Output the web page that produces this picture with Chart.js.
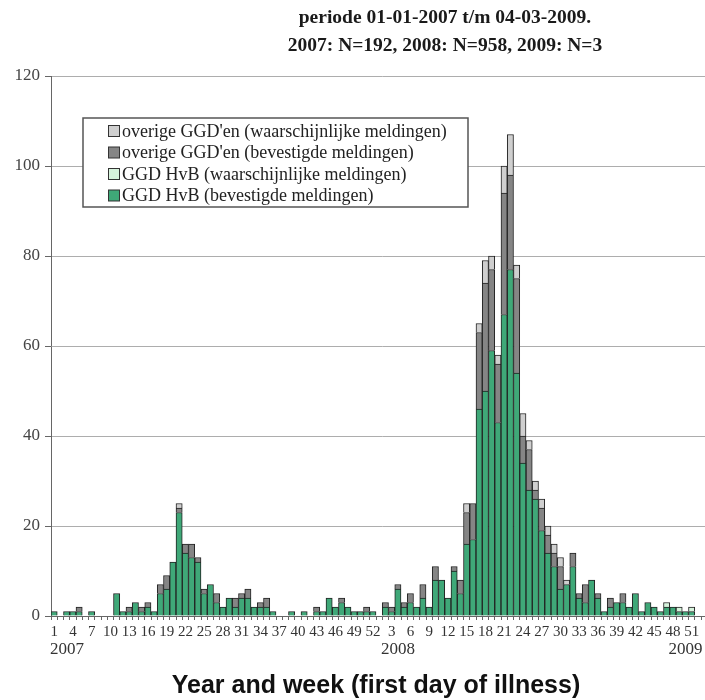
<!DOCTYPE html>
<html><head><meta charset="utf-8">
<script src="https://cdn.jsdelivr.net/npm/chart.js@4.4.1/dist/chart.umd.min.js"></script>
<style>html,body{margin:0;padding:0;background:#fff;overflow:hidden;width:705px;height:700px}
#wrap{position:relative;width:718px;height:700px}</style>
</head><body><div id="wrap"><canvas id="c" width="718" height="700"></canvas></div>
<script>
// Week numbers: 2007 w1-52, 2008 w1-52, 2009 w1-2
const weeks = [
 1,2,3,4,5,6,7,8,9,10,11,12,13,14,15,16,17,18,19,20,21,22,23,24,25,26,27,28,29,30,31,32,33,34,35,36,37,38,39,40,41,42,43,44,45,46,47,48,49,50,51,52,
 1,2,3,4,5,6,7,8,9,10,11,12,13,14,15,16,17,18,19,20,21,22,23,24,25,26,27,28,29,30,31,32,33,34,35,36,37,38,39,40,41,42,43,44,45,46,47,48,49,50,51,52,
 1,2
];
const years = ['2007','2008','2009'];
const seriesNames = [
 'GGD HvB (bevestigde meldingen)',
 'GGD HvB (waarschijnlijke meldingen)',
 "overige GGD'en (bevestigde meldingen)",
 "overige GGD'en (waarschijnlijke meldingen)"
];
const hvbConfirmed = [
 1,0,1,1,1,0,1,0,0,0,
 5,1,1,3,1,2,1,5,6,12,
 23,14,13,12,5,7,3,2,4,2,
 4,4,2,2,2,1,0,0,1,0,
 1,0,1,1,4,2,3,2,1,1,
 1,1,
 0,2,1,6,2,3,2,4,2,8,
 8,4,10,5,16,17,46,50,59,43,
 67,77,54,34,28,26,19,14,11,6,
 7,11,4,3,8,4,1,2,3,3,
 2,5,1,3,2,1,2,2,1,1,
 1,0,
 0,0
];
const hvbProbable = [
 0,0,0,0,0,0,0,0,0,0, 0,0,0,0,0,0,0,0,0,0, 0,0,0,0,0,0,0,0,0,0, 0,0,0,0,0,0,0,0,0,0, 0,0,0,0,0,0,0,0,0,0, 0,0,
 0,0,0,0,0,0,0,0,0,0, 0,0,0,0,0,0,0,0,0,0, 0,0,0,0,0,0,0,0,0,0, 0,0,0,0,0,0,0,0,0,0, 0,0,0,0,0,0,1,0,1,0,
 1,0,
 0,0
];
const otherConfirmed = [
 0,0,0,0,1,0,0,0,0,0,
 0,0,1,0,1,1,0,2,3,0,
 1,2,3,1,1,0,2,0,0,2,
 1,2,0,1,2,0,0,0,0,0,
 0,0,1,0,0,0,1,0,0,0,
 1,0,
 0,1,1,1,1,2,0,3,0,3,
 0,0,1,3,7,8,17,24,18,13,
 27,21,21,6,9,2,5,4,3,5,
 0,3,1,4,0,1,0,2,0,2,
 0,0,0,0,0,0,0,0,0,0,
 0,0,
 0,0
];
const otherProbable = [
 0,0,0,0,0,0,0,0,0,0,
 0,0,0,0,0,0,0,0,0,0,
 1,0,0,0,0,0,0,0,0,0,
 0,0,0,0,0,0,0,0,0,0,
 0,0,0,0,0,0,0,0,0,0,
 0,0,
 0,0,0,0,0,0,0,0,0,0,
 0,0,0,0,2,0,2,5,3,2,
 6,9,3,5,2,2,2,2,2,2,
 1,0,0,0,0,0,0,0,0,0,
 0,0,0,0,0,0,0,0,0,0,
 0,0,
 0,0
];
const yTicks = [0,20,40,60,80,100,120];

const colors = ['#3fa878','#d6f3dc','#858585','#cfcfcf'];
const nz = a => a.map(v => v === 0 ? null : v);
const seriesData = [hvbConfirmed, hvbProbable, otherConfirmed, otherProbable];

const decor = {
  id: 'decor',
  afterDraw(chart) {
    const ctx = chart.ctx;
    const xs = chart.scales.x;
    ctx.save();
    // header
    ctx.fillStyle = '#1a1a1a';
    ctx.textAlign = 'center';
    ctx.textBaseline = 'middle';
    ctx.font = 'bold 19.5px "Liberation Serif"';
    ctx.fillText('periode 01-01-2007 t/m 04-03-2009.', 445, 18);
    ctx.fillText('2007: N=192, 2008: N=958, 2009: N=3', 445, 46);
    // year labels
    ctx.font = '17px "Liberation Serif"';
    ctx.fillStyle = '#333';
    ctx.textAlign = 'left';
    ctx.fillText(years[0], xs.left - 1, 650);
    ctx.textAlign = 'center';
    ctx.fillText(years[1], xs.getPixelForValue(55), 650);
    ctx.fillText(years[2], xs.getPixelForValue(101), 650);
    // x title
    ctx.fillStyle = '#111';
    ctx.font = 'bold 25px "Liberation Sans"';
    ctx.fillText('Year and week (first day of illness)', 376, 686);
    // legend
    ctx.fillStyle = '#fff';
    ctx.fillRect(83, 118, 385, 89);
    ctx.strokeStyle = '#555';
    ctx.lineWidth = 1.5;
    ctx.strokeRect(83, 118, 385, 89);
    ctx.font = '18px "Liberation Serif"';
    ctx.textAlign = 'left';
    const order = [3,2,1,0];
    order.forEach((di, r) => {
      const cy = 131 + r * 21.5;
      ctx.fillStyle = colors[di];
      ctx.fillRect(108, cy - 5.5, 11, 11);
      ctx.strokeStyle = '#333';
      ctx.lineWidth = 1;
      ctx.strokeRect(108.5, cy - 5.5, 11, 11);
      ctx.fillStyle = '#222';
      ctx.fillText(seriesNames[di], 122, cy + 1);
    });
    ctx.restore();
  }
};

new Chart(document.getElementById('c'), {
  type: 'bar',
  data: {
    labels: weeks.map(String),
    datasets: seriesData.map((d, i) => ({
      label: seriesNames[i],
      data: nz(d),
      backgroundColor: colors[i],
      borderColor: '#222',
      borderWidth: 1,
      barPercentage: 1.0,
      categoryPercentage: 1.0
    }))
  },
  options: {
    responsive: false,
    animation: false,
    layout: { padding: { top: 76, right: 4.5, bottom: 0, left: 0 } },
    plugins: { legend: { display: false }, tooltip: { enabled: false }, title: { display: false } },
    scales: {
      x: {
        stacked: true,
        offset: true,
        grid: { offset: true, drawOnChartArea: false, drawTicks: true, tickLength: 4, color: '#666' },
        border: { color: '#666', width: 1 },
        ticks: {
          autoSkip: false, maxRotation: 0, minRotation: 0, padding: 3,
          font: { family: 'Liberation Serif', size: 15 }, color: '#333',
          callback: (v, i) => (i % 3 === 0 ? String(weeks[i]) : '')
        },
        afterFit: s => { s.height = 84; }
      },
      y: {
        stacked: true,
        min: 0, max: 120,
        afterBuildTicks: s => { s.ticks = yTicks.map(v => ({ value: v })); },
        ticks: { font: { family: 'Liberation Serif', size: 17 }, color: '#444', padding: 5 },
        grid: { color: '#adadad', tickColor: '#666', tickLength: 6 },
        border: { color: '#666', width: 1 },
        afterFit: s => { s.width = 51; }
      }
    }
  },
  plugins: [decor]
});
</script>
</body></html>
